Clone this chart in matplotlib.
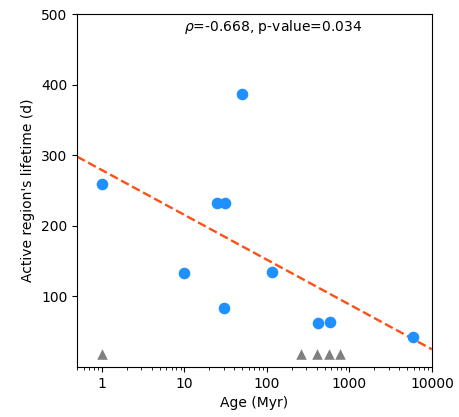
import matplotlib
matplotlib.use("Agg")
import matplotlib.pyplot as plt
import numpy as np

# Detected (blue) points
age = [1, 10, 24.5, 31, 50, 30, 114, 415, 580, 5840]
lifetime = [259, 133, 233, 233, 387, 83, 135, 62, 64, 43]

# Non-detections / upper limits (grey triangles)
age_lim = [1, 260, 410, 565, 767]
lifetime_lim = [19, 19, 19, 19, 19]

# Fit line parameters: lifetime = intercept + slope*log10(age)
fit_intercept = 279.0
fit_slope = -63.5

fig = plt.figure(figsize=(4.59, 4.17), dpi=100)
ax = fig.add_axes([0.168, 0.12, 0.773, 0.846])

ax.set_xscale("log")
ax.set_xlim(0.5, 10000)
ax.set_ylim(0, 500)

xx = np.logspace(np.log10(0.5), 4, 100)
ax.plot(xx, fit_intercept + fit_slope * np.log10(xx), ls="--", color="#ff4f14", lw=1.7, zorder=2)

ax.scatter(age, lifetime, s=70, color="#1e90ff", zorder=3, linewidths=0)
ax.scatter(age_lim, lifetime_lim, s=58, marker="^", color="grey", zorder=3, linewidths=0)

ax.set_xticks([1, 10, 100, 1000, 10000])
ax.set_xticklabels(["1", "10", "100", "1000", "10000"])
ax.set_yticks([100, 200, 300, 400, 500])

ax.set_xlabel("Age (Myr)")
ax.set_ylabel("Active region's lifetime (d)")
ax.text(0.30, 0.99, r"$\rho$=-0.668, p-value=0.034", transform=ax.transAxes,
        va="top", ha="left", fontsize=10)

fig.savefig("out.png", dpi=100)
